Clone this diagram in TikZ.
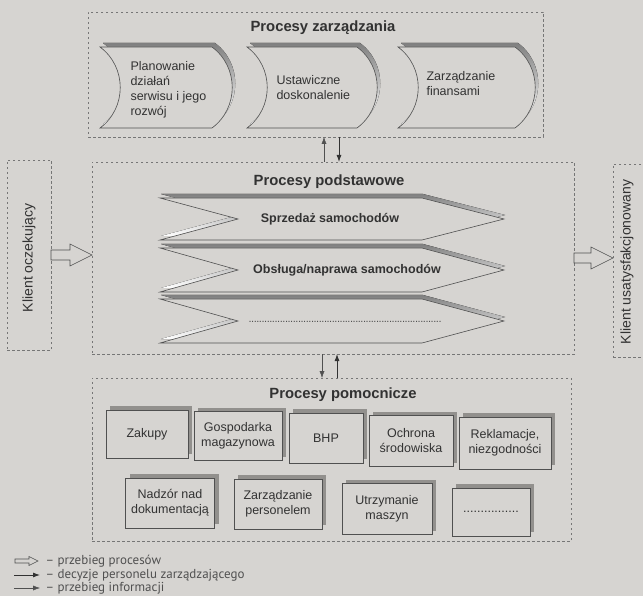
\documentclass[tikz,border=0pt]{standalone}
\usepackage{fontspec}
\setmainfont{Liberation Sans}
\newfontfamily\legendfont{PT Sans}
\usetikzlibrary{arrows.meta,calc,shadows}
\definecolor{paper}{RGB}{214,212,209}
\definecolor{ink}{RGB}{50,50,50}
\definecolor{edge}{RGB}{80,80,80}
\definecolor{dashgray}{RGB}{118,118,118}
\definecolor{shade}{RGB}{146,144,141}
% hollow arrow: start, end, half shaft, half head, head length
\newcommand{\hollowarrow}[5]{%
  \draw[procflow] let \p1=(#1), \p2=(#2) in
    (\x1,\y1+#3) -- (\x2-#5,\y1+#3) -- (\x2-#5,\y1+#4) -- (\x2,\y1)
    -- (\x2-#5,\y1-#4) -- (\x2-#5,\y1-#3) -- (\x1,\y1-#3) -- cycle;}
\begin{document}
\begin{tikzpicture}[x=1pt,y=-1pt,>={Latex[length=7pt,width=5pt]},
  dashbox/.style={draw=dashgray,line width=0.6pt,dash pattern=on 2.5pt off 2.5pt,
    inner sep=0pt,outer sep=0pt,anchor=north west},
  title/.style={font=\fontsize{14.8}{17}\selectfont\bfseries,text=ink},
  txt/.style={font=\fontsize{12.5}{15}\selectfont,text=ink,align=left,anchor=west},
  ctxt/.style={font=\fontsize{12.5}{15}\selectfont\bfseries,text=ink},
  sidetxt/.style={font=\fontsize{14}{16}\selectfont,text=ink,rotate=90},
  pbox/.style={draw=edge,line width=0.6pt,fill=paper,text=ink,align=center,
    font=\fontsize{12.5}{15}\selectfont,inner sep=0pt,
    drop shadow={shadow xshift=4pt,shadow yshift=4pt,fill=shade,opacity=1}},
  procflow/.style={draw=edge,line width=0.6pt,fill=paper},
  info/.style={->,draw=edge,line width=0.45pt},
  decision/.style={->,draw=ink,line width=0.9pt},
  legend/.style={font=\legendfont\fontsize{13}{15}\selectfont,text=edge,anchor=west}]
\fill[paper] (0,0) rectangle (643,596);
\useasboundingbox (0,0) rectangle (643,596);
\clip (0,0) rectangle (643,596);
\def\tapepath#1#2{(#1,47) -- (#2,47) .. controls (#2+27,67) and (#2+27,108) .. (#2,128)
  -- (#1,128) .. controls (#1+27,108) and (#1+27,67) .. (#1,47) -- cycle}
\def\chevpath#1#2#3{(160,#1) -- (422,#1) -- (504,#2) -- (422,#3) -- (160,#3) -- (238,#2) -- cycle}

\node[dashbox,minimum width=455pt,minimum height=125pt] (zarz) at (88,12) {};
\node[dashbox,minimum width=482pt,minimum height=192pt] (podst) at (92,162) {};
\node[dashbox,minimum width=479pt,minimum height=163pt] (pomoc) at (92,378) {};
\node[dashbox,minimum width=44pt,minimum height=190pt] (kocz) at (7,160) {};
\node[dashbox,minimum width=40pt,minimum height=193pt] (kusat) at (613,164) {};

\node[title] (tzarz) at (323,28) {Procesy zarządzania};
\node[title] (tpodst) at (329,182) {Procesy podstawowe};
\node[title] (tpomoc) at (343,395) {Procesy pomocnicze};

\foreach \xl/\xr in {100/212,247/357,398/515} {
  \fill[shade,shift={(3,-4)}] \tapepath{\xl}{\xr};
  \filldraw[fill=paper,draw=edge,line width=0.6pt] \tapepath{\xl}{\xr};
}
\node[txt] (plan) at (127,90) {Planowanie\\działań\\serwisu i jego\\rozwój};
\node[txt] (dosk) at (273,88) {Ustawiczne\\doskonalenie};
\node[txt] (finans) at (423,84) {Zarządzanie\\finansami};

\foreach \t/\m/\b in {198/219/240,248/270/292,299/321/343} {
  \fill[shade,shift={(1,-4)}] \chevpath{\t}{\m}{\b};
  \filldraw[fill=paper,draw=edge,line width=0.6pt] \chevpath{\t}{\m}{\b};
}
\node[ctxt] (sprzedaz) at (330,219) {Sprzedaż samochodów};
\node[ctxt] (obsluga) at (347,270) {Obsługa/naprawa samochodów};
\node[ctxt,font=\fontsize{11}{13}\selectfont,text=edge] (kropki) at (345,322)
  {\makebox[195pt]{\cleaders\hbox to 2.6pt{\hss.\hss}\hfill}};

\node[sidetxt] (tkocz) at (29,258) {Klient oczekujący};
\node[sidetxt] (tkusat) at (627,262) {Klient usatysfakcjonowany};
\hollowarrow{kocz.east}{podst.west}{5pt}{11pt}{22pt}
\hollowarrow{podst.east}{kusat.west}{5pt}{11pt}{22pt}

\coordinate (xa) at (324,0);
\coordinate (xb) at (339,0);
\coordinate (xc) at (322,0);
\coordinate (xd) at (337,0);
\draw[info] (podst.north -| xa) -- (zarz.south -| xa);
\draw[decision] (zarz.south -| xb) -- (podst.north -| xb);
\draw[info] (podst.south -| xc) -- (pomoc.north -| xc);
\draw[decision] (pomoc.north -| xd) -- (podst.south -| xd);

\node[pbox,minimum width=82pt,minimum height=48pt] (zakupy) at (147,434) {Zakupy};
\node[pbox,minimum width=88pt,minimum height=49pt] (magazyn) at (238,436) {Gospodarka\\magazynowa};
\node[pbox,minimum width=74pt,minimum height=50pt] (bhp) at (326,438) {BHP};
\node[pbox,minimum width=84pt,minimum height=51pt] (ochrona) at (411,441) {Ochrona\\środowiska};
\node[pbox,minimum width=92pt,minimum height=52pt] (reklam) at (505,443) {Reklamacje,\\niezgodności};
\node[pbox,minimum width=89pt,minimum height=50pt] (nadzor) at (170,503) {Nadzór nad\\dokumentacją};
\node[pbox,minimum width=88pt,minimum height=50pt] (personel) at (278,504) {Zarządzanie\\personelem};
\node[pbox,minimum width=90pt,minimum height=51pt] (maszyny) at (387,509) {Utrzymanie\\maszyn};
\node[pbox,minimum width=78pt,minimum height=48pt] (inne) at (491,512) {................};

\coordinate (l1a) at (15,561);
\coordinate (l1b) at (38,561);
\coordinate (l2a) at (14,575);
\coordinate (l2b) at (40,575);
\coordinate (l3a) at (14,588);
\coordinate (l3b) at (40,588);
\hollowarrow{l1a}{l1b}{2pt}{4.5pt}{9pt}
\draw[decision] (l2a) -- (l2b);
\draw[info] (l3a) -- (l3b);
\node[legend] (lproc) at (42,561) {– przebieg procesów};
\node[legend] (ldec) at (42,575) {– decyzje personelu zarządzającego};
\node[legend] (linf) at (42,588) {– przebieg informacji};
\end{tikzpicture}
\end{document}
